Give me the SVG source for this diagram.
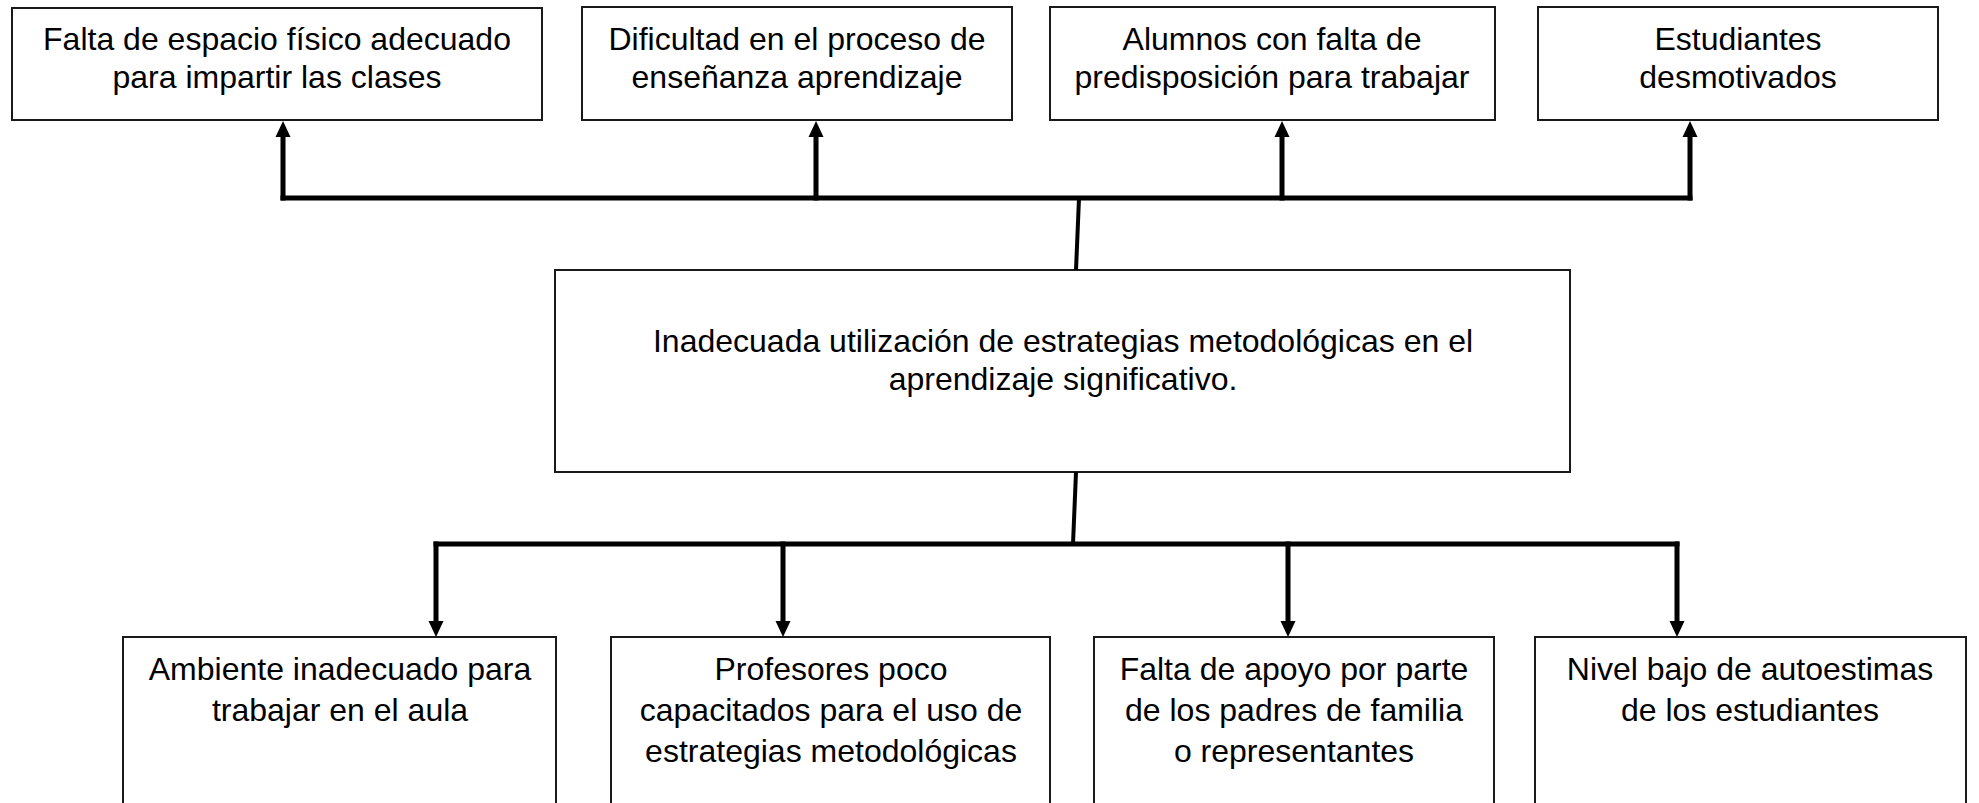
<svg xmlns="http://www.w3.org/2000/svg" width="1979" height="803" viewBox="0 0 1979 803">
<defs>
<style>
.box{fill:#fff;stroke:#1a1a1a;stroke-width:2}
.t{font-family:"Liberation Sans",Arial,sans-serif;font-size:32px;fill:#000;text-anchor:middle}
.c{stroke:#000;stroke-width:5;fill:none;stroke-linecap:square}
.c2{stroke:#000;stroke-width:4;fill:none}
.ah{fill:#000}
</style>
</defs>
<rect width="1979" height="803" fill="#fff"/>
<g id="effect1"><rect class="box" x="12" y="8" width="530" height="112"/><text class="t" x="277" y="50">Falta de espacio físico adecuado</text><text class="t" x="277" y="88">para impartir las clases</text></g>
<g id="effect2"><rect class="box" x="582" y="7" width="430" height="113"/><text class="t" x="797" y="50">Dificultad en el proceso de</text><text class="t" x="797" y="88">enseñanza aprendizaje</text></g>
<g id="effect3"><rect class="box" x="1050" y="7" width="445" height="113"/><text class="t" x="1272" y="50">Alumnos con falta de</text><text class="t" x="1272" y="88">predisposición para trabajar</text></g>
<g id="effect4"><rect class="box" x="1538" y="7" width="400" height="113"/><text class="t" x="1738" y="50">Estudiantes</text><text class="t" x="1738" y="88">desmotivados</text></g>
<g id="problem"><rect class="box" x="555" y="270" width="1015" height="202"/><text class="t" x="1063" y="352">Inadecuada utilización de estrategias metodológicas en el</text><text class="t" x="1063" y="390">aprendizaje significativo.</text></g>
<g id="cause1"><rect class="box" x="123" y="637" width="433" height="180"/><text class="t" x="340" y="680">Ambiente inadecuado para</text><text class="t" x="340" y="721">trabajar en el aula</text></g>
<g id="cause2"><rect class="box" x="611" y="637" width="439" height="180"/><text class="t" x="831" y="680">Profesores poco</text><text class="t" x="831" y="721">capacitados para el uso de</text><text class="t" x="831" y="762">estrategias metodológicas</text></g>
<g id="cause3"><rect class="box" x="1094" y="637" width="400" height="180"/><text class="t" x="1294" y="680">Falta de apoyo por parte</text><text class="t" x="1294" y="721">de los padres de familia</text><text class="t" x="1294" y="762">o representantes</text></g>
<g id="cause4"><rect class="box" x="1535" y="637" width="431" height="180"/><text class="t" x="1750" y="680">Nivel bajo de autoestimas</text><text class="t" x="1750" y="721">de los estudiantes</text></g>
<g id="connectors">
<path class="c" d="M283 198 H1690"/>
<path class="c" d="M283 198 V136 M816 198 V136 M1282 198 V136 M1690 198 V136"/>
<polygon class="ah" points="283,121 275.5,137 290.5,137"/>
<polygon class="ah" points="816,121 808.5,137 823.5,137"/>
<polygon class="ah" points="1282,121 1274.5,137 1289.5,137"/>
<polygon class="ah" points="1690,121 1682.5,137 1697.5,137"/>
<path class="c2" d="M1079 198 L1076 270"/>
<path class="c2" d="M1076 472 L1073 544"/>
<path class="c" d="M436 544 H1677"/>
<path class="c" d="M436 544 V622 M783 544 V622 M1288 544 V622 M1677 544 V622"/>
<polygon class="ah" points="436,637 428.5,621 443.5,621"/>
<polygon class="ah" points="783,637 775.5,621 790.5,621"/>
<polygon class="ah" points="1288,637 1280.5,621 1295.5,621"/>
<polygon class="ah" points="1677,637 1669.5,621 1684.5,621"/>
</g>
</svg>
